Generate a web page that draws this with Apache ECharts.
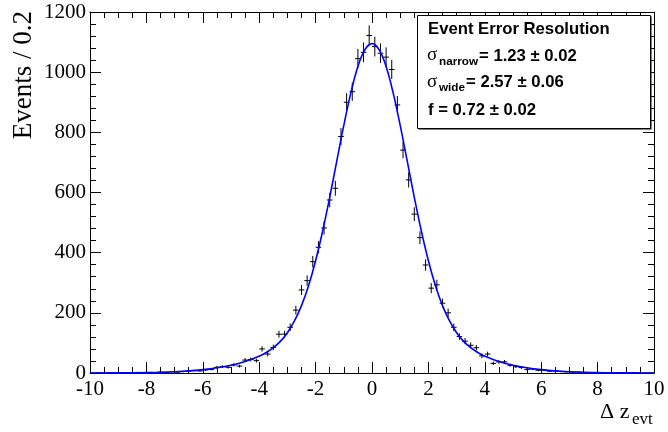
<!DOCTYPE html>
<html><head><meta charset="utf-8">
<script src="https://cdn.jsdelivr.net/npm/echarts@6/dist/echarts.min.js"></script>
<style>html,body{margin:0;padding:0;background:#fff}#c{width:668px;height:432px}</style>
</head><body><div id="c"></div>
<script>
// ---- data ----
const binLow = -10;
const binWidth = 0.2;
const counts = [
  0, 1, 0, 1, 0, 1, 1, 0, 2, 1,
  2, 1, 3, 2, 4, 3, 5, 6, 8, 7,
  10, 12, 19, 21, 19, 27, 23, 43, 45, 41,
  80, 63, 85, 129, 129, 152, 209, 276, 307, 370,
  418, 482, 575, 614, 786, 900, 935, 1045, 1066, 1122,
  1085, 1063, 1050, 1009, 891, 741, 642, 528, 450, 359,
  282, 293, 232, 200, 152, 121, 106, 92, 84, 57,
  63, 32, 37, 37, 26, 21, 18, 12, 13, 9,
  10, 6, 7, 5, 4, 3, 3, 2, 2, 1,
  1, 1, 0, 1, 0, 0, 1, 0, 0, 0
];
const curveX = [-10,-9.5,-9,-8.5,-8,-7.5,-7,-6.5,-6,-5.5,-5,-4.5,-4,-3.75,-3.5,-3.25,-3,-2.75,-2.5,-2.25,-2,-1.75,-1.5,-1.25,-1,-0.75,-0.5,-0.25,0,
  0.25,0.5,0.75,1,1.25,1.5,1.75,2,2.25,2.5,2.75,3,3.25,3.5,3.75,4,4.5,5,5.5,6,6.5,7,7.5,8,8.5,9,9.5,10];
const curveY = [0.1,0.2,0.4,0.7,1.4,2.4,4.2,7.0,11.3,17.4,26,38,56,68,84,105,134,173,224,290,373,472,584,704,823,931,1019,1075,1095,
  1075,1019,931,823,704,584,472,373,290,224,173,134,105,84,68,56,38,26,17.4,11.3,7.0,4.2,2.4,1.4,0.7,0.4,0.2,0.1];
const xTickLabels = ['-10','-8','-6','-4','-2','0','2','4','6','8','10'];
const yTickLabels = ['0','200','400','600','800','1000','1200'];
const boxLines = ['Event Error Resolution', '= 1.23 \u00b1 0.02', '= 2.57 \u00b1 0.06', 'f = 0.72 \u00b1 0.02'];

// ---- chart ----
const histData = counts.map((v, i) => [binLow + binWidth * (i + 0.5), v]);
const curveData = curveX.map((x, i) => [x, curveY[i]]);

const serif = '"Liberation Serif", "Times New Roman", serif';
const sans = '"Liberation Sans", Arial, sans-serif';
const axisCommon = {
  type: 'value',
  axisLine: { show: true, onZero: false, lineStyle: { color: '#000', width: 1 } },
  axisTick: { show: true, inside: true, length: 11, lineStyle: { color: '#000', width: 1 } },
  minorTick: { show: true, length: 6, lineStyle: { color: '#000', width: 1 } },
  splitLine: { show: false },
  minorSplitLine: { show: false }
};
function xAxis(pos, labels) {
  return Object.assign({}, axisCommon, {
    position: pos, min: -10, max: 10, interval: 2,
    minorTick: Object.assign({}, axisCommon.minorTick, { splitNumber: 4 }),
    axisLabel: { show: labels, margin: 6, color: '#000', fontFamily: serif, fontSize: 21,
      formatter: v => xTickLabels[Math.round((v + 10) / 2)] }
  });
}
function yAxis(pos, labels) {
  return Object.assign({}, axisCommon, {
    position: pos, min: 0, max: 1200, interval: 200,
    minorTick: Object.assign({}, axisCommon.minorTick, { splitNumber: 5 }),
    axisLabel: { show: labels, margin: 4, color: '#000', fontFamily: serif, fontSize: 21,
      formatter: v => yTickLabels[Math.round(v / 200)] }
  });
}

const chart = echarts.init(document.getElementById('c'), null, { renderer: 'canvas' });
chart.setOption({
  animation: false,
  backgroundColor: '#fff',
  grid: { left: 90, right: 14, top: 12, bottom: 59 },
  xAxis: [xAxis('bottom', true), xAxis('top', false)],
  yAxis: [yAxis('left', true), yAxis('right', false)],
  series: [
    {
      type: 'custom',
      xAxisIndex: 0, yAxisIndex: 0,
      data: histData,
      clip: true,
      renderItem: function (params, api) {
        const x = api.value(0), y = api.value(1);
        const up = y > 0 ? Math.sqrt(y) : 1.15;
        const dn = y > 0 ? Math.sqrt(y) : 0;
        const l = api.coord([x - binWidth / 2, y]);
        const r = api.coord([x + binWidth / 2, y]);
        const t = api.coord([x, y + up]);
        const b = api.coord([x, y - dn]);
        const st = { stroke: '#000', lineWidth: 1 };
        return { type: 'group', children: [
          { type: 'line', shape: { x1: l[0], y1: l[1], x2: r[0], y2: r[1] }, style: st },
          { type: 'line', shape: { x1: t[0], y1: t[1], x2: b[0], y2: b[1] }, style: st }
        ]};
      },
      z: 3
    },
    {
      type: 'line',
      xAxisIndex: 0, yAxisIndex: 0,
      data: curveData,
      smooth: 0.4,
      showSymbol: false,
      lineStyle: { color: '#0000ff', width: 1.6 },
      z: 4
    }
  ],
  graphic: [
    { type: 'text', x: 24, y: 11, rotation: Math.PI / 2, z: 10,
      style: { text: 'Events / 0.2', font: '27px ' + serif, fill: '#000',
        textAlign: 'right', align: 'right', textVerticalAlign: 'middle', verticalAlign: 'middle' } },
    { type: 'text', x: 600, y: 412, z: 10,
      style: { text: '\u0394 z', font: '22px ' + serif, fill: '#000',
        textAlign: 'left', align: 'left', textVerticalAlign: 'middle', verticalAlign: 'middle' } },
    { type: 'text', x: 632, y: 420, z: 10,
      style: { text: 'evt', font: '17px ' + serif, fill: '#000',
        textAlign: 'left', align: 'left', textVerticalAlign: 'middle', verticalAlign: 'middle' } },
    // stat box
    { type: 'rect', z: 20, shape: { x: 418.5, y: 16.5, width: 233, height: 113 }, style: { fill: '#000' } },
    { type: 'rect', z: 21, shape: { x: 417.5, y: 15.5, width: 233, height: 113 }, style: { fill: '#fff', stroke: '#000', lineWidth: 1 } },
    { type: 'text', x: 428, y: 29, z: 22,
      style: { text: boxLines[0], font: 'bold 16.7px ' + sans, fill: '#000', textVerticalAlign: 'middle', verticalAlign: 'middle' } },
    { type: 'text', x: 427, y: 55, z: 22,
      style: { text: '\u03c3', font: '19px ' + serif, fill: '#000', textVerticalAlign: 'middle', verticalAlign: 'middle' } },
    { type: 'text', x: 439, y: 62, z: 22,
      style: { text: 'narrow', font: 'bold 11.7px ' + sans, fill: '#000', textVerticalAlign: 'middle', verticalAlign: 'middle' } },
    { type: 'text', x: 479, y: 56, z: 22,
      style: { text: boxLines[1], font: 'bold 16.7px ' + sans, fill: '#000', textVerticalAlign: 'middle', verticalAlign: 'middle' } },
    { type: 'text', x: 427, y: 82, z: 22,
      style: { text: '\u03c3', font: '19px ' + serif, fill: '#000', textVerticalAlign: 'middle', verticalAlign: 'middle' } },
    { type: 'text', x: 439, y: 88, z: 22,
      style: { text: 'wide', font: 'bold 11.7px ' + sans, fill: '#000', textVerticalAlign: 'middle', verticalAlign: 'middle' } },
    { type: 'text', x: 466, y: 82, z: 22,
      style: { text: boxLines[2], font: 'bold 16.7px ' + sans, fill: '#000', textVerticalAlign: 'middle', verticalAlign: 'middle' } },
    { type: 'text', x: 428, y: 110, z: 22,
      style: { text: boxLines[3], font: 'bold 16.7px ' + sans, fill: '#000', textVerticalAlign: 'middle', verticalAlign: 'middle' } }
  ]
});
</script>
</body></html>
